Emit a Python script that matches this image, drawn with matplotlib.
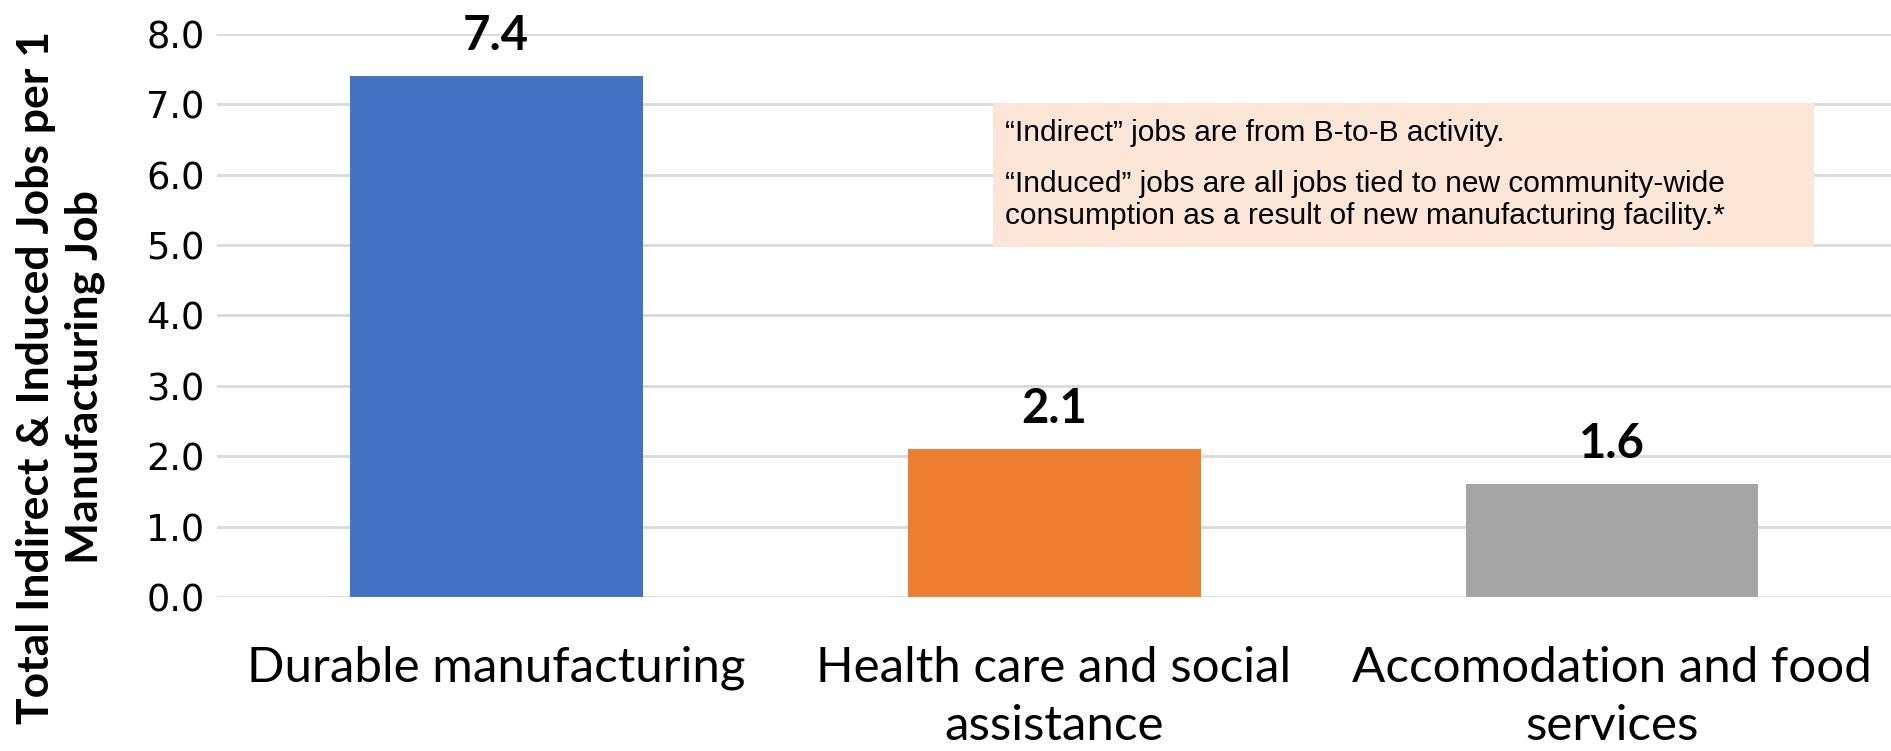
import matplotlib.pyplot as plt

# Dados do gráfico
categorias = ['Durable manufacturing', 'Health care and social\nassistance', 'Accomodation and food\nservices']
valores = [7.4, 2.1, 1.6]
cores = ['#4472C4', '#ED7D31', '#A5A5A5']
rotulos_y = ['0.0', '1.0', '2.0', '3.0', '4.0', '5.0', '6.0', '7.0', '8.0']

nota_linha1 = '\u201cIndirect\u201d jobs are from B-to-B activity.'
nota_linha2 = ('\u201cInduced\u201d jobs are all jobs tied to new community-wide\n'
               'consumption as a result of new manufacturing facility.*')

fig = plt.figure(figsize=(18.91, 7.51), dpi=100)
ax = fig.add_axes([0.1148, 0.205, 0.8852, 0.75])

x = range(len(categorias))
barras = ax.bar(x, valores, width=0.525, color=cores, zorder=3)

# Rótulos de valor acima das barras
for b, v in zip(barras, valores):
    ax.annotate(f'{v:.1f}', (b.get_x() + b.get_width() / 2, v),
                xytext=(0, 13), textcoords='offset points',
                ha='center', va='bottom', fontsize=34, fontweight='bold',
                family='Lato')

ax.set_xlim(-0.5, len(categorias) - 0.5)
ax.set_ylim(0, 8)
ax.set_yticks([float(r) for r in rotulos_y])
ax.set_yticklabels(rotulos_y, fontsize=26.5, family='DejaVu Sans')
ax.set_xticks(list(x))
ax.set_xticklabels(categorias, fontsize=35.5, family='Lato', va='top', linespacing=1.4)
ax.tick_params(axis='x', length=0, pad=35)
ax.tick_params(axis='y', length=0, pad=9)

ax.grid(axis='y', color='#D9D9D9', linewidth=2, zorder=0)
for s in ax.spines.values():
    s.set_visible(False)

ax.set_ylabel('Total Indirect & Induced Jobs per 1\nManufacturing Job', fontsize=32,
              fontweight='bold', family='Lato', linespacing=1.25)
ax.yaxis.set_label_coords(-0.067, 0.39)

# Caixa de nota
caixa = plt.Rectangle((993 / 1891, 1 - 247 / 751), (1814 - 993) / 1891, (247 - 103) / 751,
                      transform=fig.transFigure, facecolor='#FBE5D6', edgecolor='none', zorder=5)
fig.patches.append(caixa)
fig.text(1005 / 1891, 1 - 133 / 751, nota_linha1, fontsize=21.5, family='Liberation Sans',
         va='center', ha='left', zorder=6)
fig.text(1005 / 1891, 1 - 200 / 751, nota_linha2, fontsize=21.5, family='Liberation Sans',
         va='center', ha='left', linespacing=1.2, zorder=6)

plt.savefig('out.png', dpi=100)
